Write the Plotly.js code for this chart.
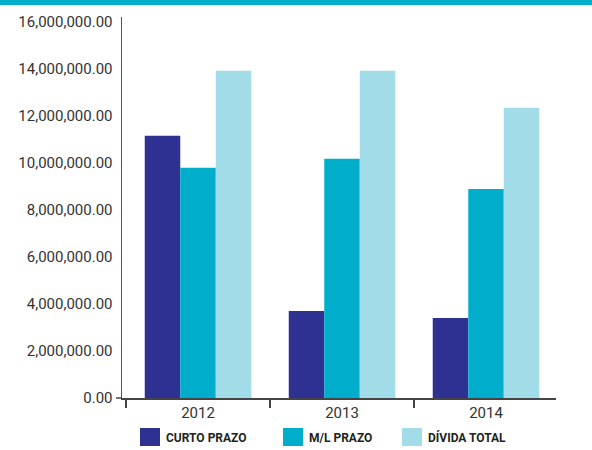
<!DOCTYPE html>
<html><head><meta charset="utf-8">
<script src="https://cdn.plot.ly/plotly-3.0.1.min.js"></script>
<style>html,body{margin:0;padding:0;background:#fff}#c{width:592px;height:450px}</style>
</head><body><div id="c"></div>
<script>
const categories = ['2012', '2013', '2014'];
const seriesNames = ['CURTO PRAZO', 'M/L PRAZO', 'DÍVIDA TOTAL'];
const curtoPrazo = [11150000, 3700000, 3400000];
const mlPrazo = [9790000, 10170000, 8890000];
const dividaTotal = [13910000, 13910000, 12340000];
const colors = ['#2e3192', '#00aecb', '#a3dce9'];

const W = 592, H = 450, L = 122, R = 36, T = 17, B = 52;
const pw = W - L - R, ph = H - T - B;
const px = x => (x - L) / pw;
const py = y => (H - B - y) / ph;

const seriesVals = [curtoPrazo, mlPrazo, dividaTotal];
const traces = seriesVals.map((v, i) => ({
  type: 'bar', x: categories, y: v, name: seriesNames[i],
  marker: {color: colors[i]}, showlegend: false, hoverinfo: 'x+y'
}));

const shapes = [
  {type: 'rect', xref: 'paper', yref: 'paper', x0: px(0), x1: px(W), y0: py(5), y1: py(0), fillcolor: '#00aecb', line: {width: 0}},
  {type: 'line', xref: 'paper', yref: 'paper', x0: px(116), x1: px(122), y0: 0, y1: 0, line: {color: '#444', width: 1.5}}
];
const annotations = [];
const legX = [140, 283, 402];
seriesNames.forEach((n, i) => {
  shapes.push({type: 'rect', xref: 'paper', yref: 'paper', x0: px(legX[i]), x1: px(legX[i] + 20), y0: py(446), y1: py(428), fillcolor: colors[i], line: {width: 0}});
  annotations.push({xref: 'paper', yref: 'paper', x: px(legX[i] + 24), y: py(437.5), xanchor: 'left', yanchor: 'middle', showarrow: false, text: '<b>' + n + '</b>', font: {family: 'Roboto', size: 12, color: '#231f20'}});
});

const layout = {
  width: W, height: H, margin: {l: L, r: R, t: T, b: B},
  paper_bgcolor: '#fff', plot_bgcolor: '#fff',
  barmode: 'group', bargap: 0.26, bargroupgap: 0,
  showlegend: false,
  font: {family: 'Roboto', size: 15, color: '#333'},
  xaxis: {type: 'category', range: [-0.528, 2.486], showline: true, linecolor: '#444', linewidth: 1.5,
    ticks: 'outside', tickson: 'boundaries', ticklen: 8, tickcolor: '#444', tickwidth: 1.5,
    showgrid: false, zeroline: false, tickfont: {size: 15, color: '#333'}},
  yaxis: {range: [0, 16200000], dtick: 2000000, tick0: 0, tickformat: ',.2f', showline: true, linecolor: '#555', linewidth: 1.5,
    ticks: 'outside', ticklen: 5, tickcolor: 'rgba(0,0,0,0)', showgrid: false, zeroline: false, tickfont: {size: 15, color: '#333'}},
  shapes: shapes, annotations: annotations
};
Plotly.newPlot('c', traces, layout, {displayModeBar: false, staticPlot: true});
</script></body></html>
